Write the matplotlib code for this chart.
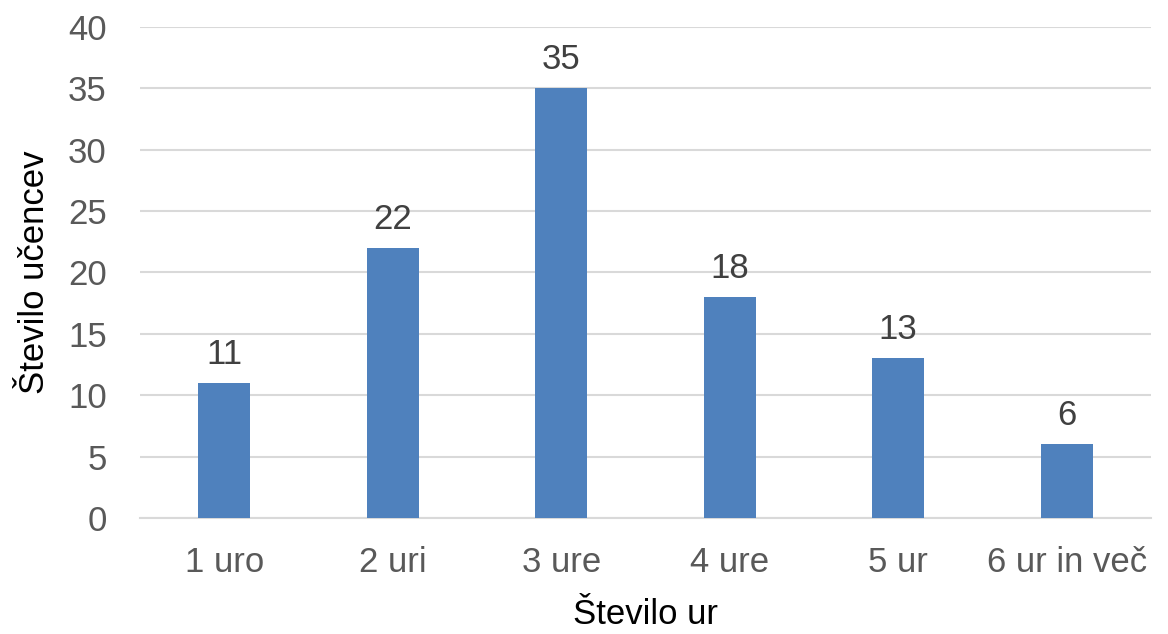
import matplotlib.pyplot as plt

# ==================== 数据 ====================
categories = ["1 uro", "2 uri", "3 ure", "4 ure", "5 ur", "6 ur in več"]
values = [11, 22, 35, 18, 13, 6]
y_ticks = [0, 5, 10, 15, 20, 25, 30, 35, 40]
# ==============================================

plt.rcParams['font.family'] = ['Liberation Sans', 'DejaVu Sans']
FS = 25

fig = plt.figure(figsize=(11.68, 6.34), dpi=100)
ax = fig.add_axes([0.1199, 0.183, 0.8655, 0.7745])

x = list(range(len(categories)))
ax.bar(x, values, width=0.31, color='#4F81BD', zorder=3)

for xi, v in zip(x, values):
    ax.text(xi, v + 1.0, str(v), ha='center', va='bottom', fontsize=FS, color='#404040')

ax.set_xlim(-0.5, len(categories) - 0.5)
ax.set_ylim(0, 40)
ax.set_yticks(y_ticks)
ax.set_xticks(x)
ax.set_xticklabels(categories)
ax.tick_params(axis='both', length=0, labelsize=FS, labelcolor='#595959')
ax.tick_params(axis='y', pad=24)
ax.tick_params(axis='x', pad=20)

ax.grid(axis='y', color='#D9D9D9', linewidth=1.5, zorder=0)
for s in ['top', 'right', 'left']:
    ax.spines[s].set_visible(False)
ax.spines['bottom'].set_color('#D9D9D9')
ax.spines['bottom'].set_linewidth(1.5)

ax.set_xlabel('Število ur', fontsize=FS, labelpad=14)
ax.set_ylabel('Število učencev', fontsize=FS, labelpad=12)

plt.savefig('out.png', dpi=100)
plt.close(fig)
